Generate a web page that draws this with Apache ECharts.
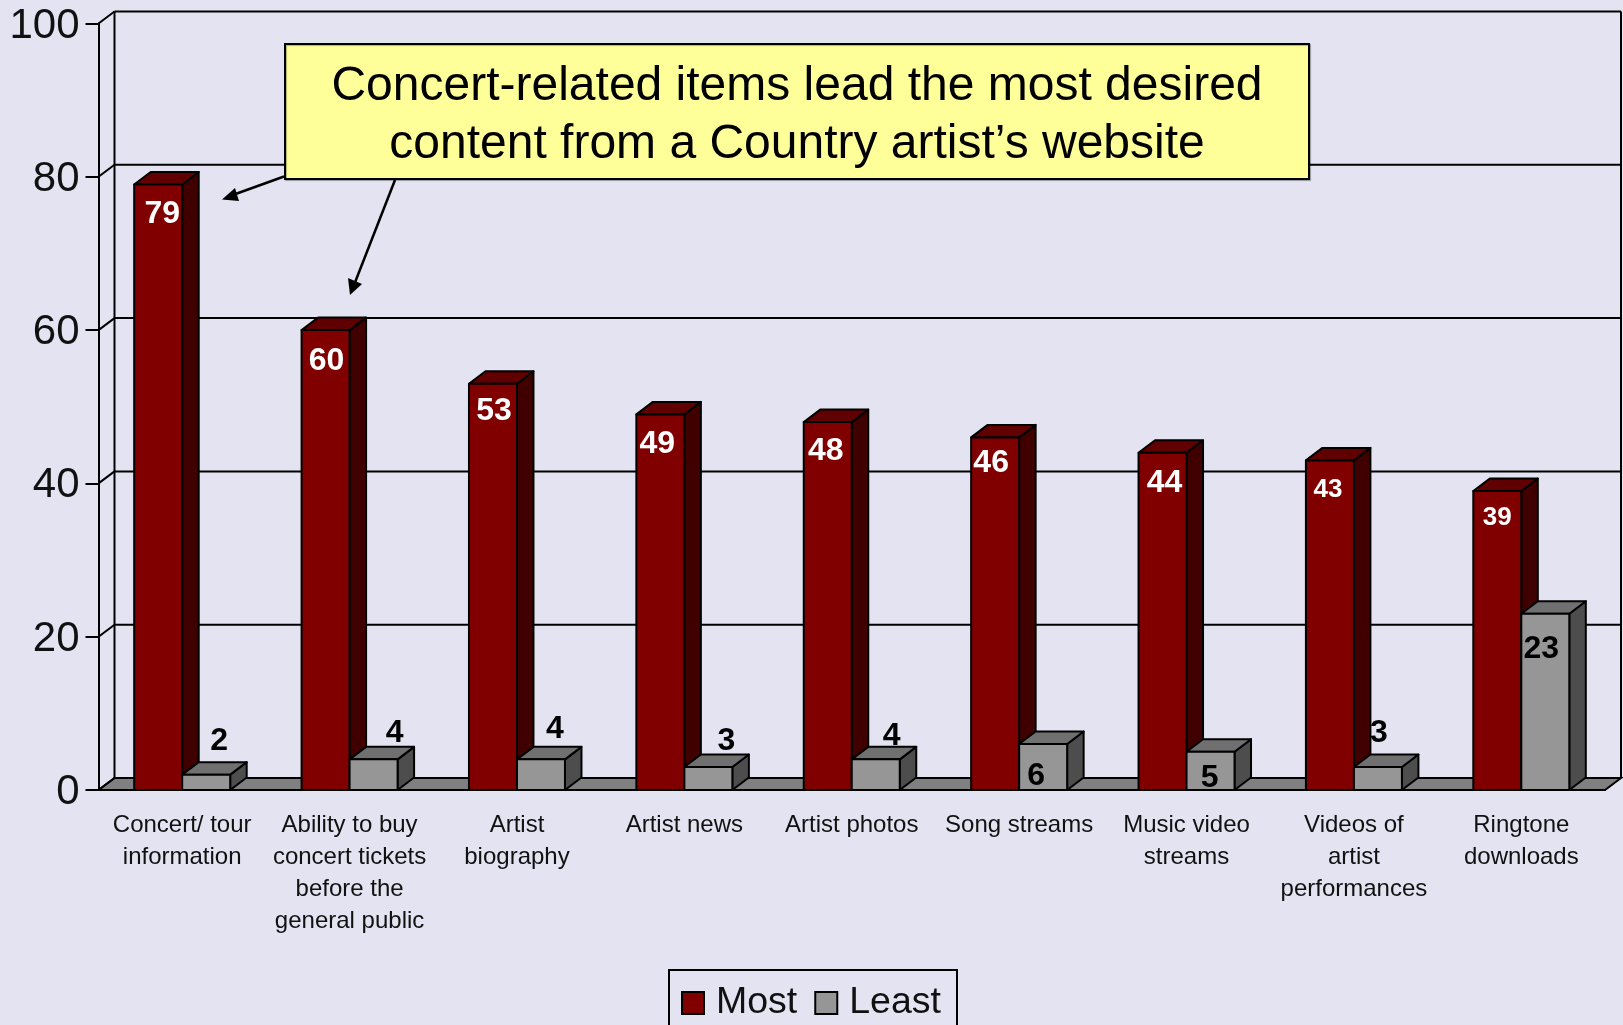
<!DOCTYPE html>
<html>
<head>
<meta charset="utf-8">
<style>html,body{margin:0;padding:0;background:#e3e3f1;overflow:hidden}#c{width:1623px;height:1025px}</style>
<script src="https://cdn.jsdelivr.net/npm/echarts@6/dist/echarts.min.js"></script>
</head>
<body>
<div id="c"></div>
<script>
const categories = ['Concert/ tour\ninformation','Ability to buy\nconcert tickets\nbefore the\ngeneral public','Artist\nbiography','Artist news','Artist photos','Song streams','Music video\nstreams','Videos of\nartist\nperformances','Ringtone\ndownloads'];
const most = [79,60,53,49,48,46,44,43,39];
const least = [2,4,4,3,4,6,5,3,23];
const yTicks = [0,20,40,60,80,100];
const calloutLines = ['Concert-related items lead the most desired','content from a Country artist\u2019s website'];

// Label placement (px offsets from the front-top centre of each bar) and sizes
const mostLabelSize = [32,32,32,32,32,32,32,26,26];
const mostLabelDx = [4,1,1,-3,-2,-4,2,-2,0];
const mostLabelDy = [30,31,27,30,29,26,30,29,27];
const leastLabelDx = [13,21,14,18,16,-7,-1,1,-4];
const leastLabelDy = [-33,-26,-30,-26,-23,32,26,-34,35];

const FONT = '"Liberation Sans", Arial, sans-serif';
const BG = '#e3e3f1', DX = 16.5, DY = 12.5, BAR = 48;

function bar3d(api, side, colors, labelCfg){
  const i = api.value(0), v = api.value(1);
  const c = api.coord([i, v]), b = api.coord([i, 0]);
  const x0 = side < 0 ? c[0] - BAR : c[0], x1 = x0 + BAR, t = c[1], o = b[1];
  const ln = {stroke:'#000', lineWidth:2, lineJoin:'round'};
  return {type:'group', children:[
    {type:'polygon', shape:{points:[[x1,t],[x1+DX,t-DY],[x1+DX,o-DY],[x1,o]]}, style:{fill:colors[2], ...ln}},
    {type:'polygon', shape:{points:[[x0,t],[x0+DX,t-DY],[x1+DX,t-DY],[x1,t]]}, style:{fill:colors[1], ...ln}},
    {type:'rect', shape:{x:x0,y:t,width:BAR,height:o-t}, style:{fill:colors[0], ...ln}},
    {type:'text', z2:20, style:{text:String(v), x:(x0+x1)/2+labelCfg.dx(i), y:t+labelCfg.dy(i), align:'center', verticalAlign:'middle',
      fill:labelCfg.color, font:'bold '+labelCfg.size(i)+'px '+FONT}}
  ]};
}

const option = {
  animation:false,
  backgroundColor:BG,
  grid:{left:98.5, top:23.5, width:1506.5, height:766.5, containLabel:false},
  legend:{
    left:669, top:970, data:['Most','Least'], icon:'rect', orient:'horizontal',
    borderColor:'#000', borderWidth:2, padding:[14,16,30,12], itemGap:17, itemWidth:22, itemHeight:22,
    itemStyle:{borderColor:'#000', borderWidth:2},
    textStyle:{fontFamily:FONT, fontSize:37.5, color:'#111', padding:[0,0,0,7]},
    selectedMode:false
  },
  xAxis:{
    type:'category', data:categories,
    axisLine:{lineStyle:{color:'#000', width:2}},
    axisTick:{length:13, lineStyle:{color:'#000', width:2}},
    axisLabel:{fontFamily:FONT, fontSize:24, color:'#111', lineHeight:32, margin:19, interval:0},
    splitLine:{show:false}
  },
  yAxis:{
    type:'value', min:0, max:100, interval:20,
    axisLine:{show:true, lineStyle:{color:'#000', width:2}},
    axisTick:{show:true, length:13, lineStyle:{color:'#000', width:2}},
    axisLabel:{margin:19, formatter:'{a|{value}}',
      rich:{a:{fontFamily:FONT, fontSize:42, color:'#111', padding:[5,0,0,0]}}},
    splitLine:{show:false}
  },
  series:[
    { type:'custom', name:'wall', silent:true, clip:false, z:1,
      data:yTicks.map(t=>[0,t]),
      renderItem(params, api){
        const cs = params.coordSys, t = api.value(1), y = api.coord([0,t])[1];
        const L = cs.x, R = cs.x+cs.width;
        const ln = {stroke:'#000', lineWidth:2};
        const kids = [];
        if(t===0){
          kids.push({type:'polygon', shape:{points:[[L,y],[L+DX-.5,y-12],[R+DX-.5,y-12],[R,y]]}, style:{fill:'#808080', stroke:'#000', lineWidth:2}});
        }
        if(t===100){
          const y0 = api.coord([0,0])[1];
          kids.push({type:'line', shape:{x1:L+DX-.5,y1:y-12,x2:L+DX-.5,y2:y0-12}, style:{stroke:'#000', lineWidth:2}});
          kids.push({type:'line', shape:{x1:R+DX-.5,y1:y-12,x2:R+DX-.5,y2:y0-12}, style:{stroke:'#000', lineWidth:2}});
        }
        kids.push({type:'line', shape:{x1:L+DX-.5,y1:y-12,x2:R+DX-.5,y2:y-12}, style:ln});
        kids.push({type:'line', shape:{x1:L,y1:y,x2:L+DX-.5,y2:y-12}, style:{stroke:'#000', lineWidth:2}});
        return {type:'group', children:kids};
      }
    },
    { type:'custom', name:'Most', clip:false, z:2,
      itemStyle:{color:'#800000', borderColor:'#000', borderWidth:2},
      data:most.map((v,i)=>[i,v]),
      renderItem(p, api){ return bar3d(api,-1,['#800000','#600000','#400000'],{color:'#fff',dx:i=>mostLabelDx[i],dy:i=>mostLabelDy[i],size:i=>mostLabelSize[i]}); }
    },
    { type:'custom', name:'Least', clip:false, z:3,
      itemStyle:{color:'#969696', borderColor:'#000', borderWidth:2},
      data:least.map((v,i)=>[i,v]),
      renderItem(p, api){ return bar3d(api,1,['#969696','#707070','#4d4d4d'],{color:'#000',dx:i=>leastLabelDx[i],dy:i=>leastLabelDy[i],size:()=>32}); }
    }
  ],
  graphic:{elements:[
    {type:'line', z:50, shape:{x1:284,y1:176.5,x2:230,y2:196}, style:{stroke:'#000', lineWidth:2.5}},
    {type:'polygon', z:50, shape:{points:[[222,199.5],[235,188],[239,201]]}, style:{fill:'#000'}},
    {type:'line', z:50, shape:{x1:395,y1:180,x2:354,y2:285}, style:{stroke:'#000', lineWidth:2.5}},
    {type:'polygon', z:50, shape:{points:[[350,295],[348,278],[362,284]]}, style:{fill:'#000'}},
    {type:'rect', z:50, shape:{x:285,y:44,width:1024,height:135},
      style:{fill:'#ffff99', stroke:'#000', lineWidth:2, shadowColor:'rgba(0,0,0,.3)', shadowOffsetX:1, shadowOffsetY:1, shadowBlur:1}},
    {type:'text', z:51, style:{text:calloutLines[0], x:797, y:87, align:'center', verticalAlign:'middle', fill:'#000', font:'48px '+FONT}},
    {type:'text', z:51, style:{text:calloutLines[1], x:797, y:145, align:'center', verticalAlign:'middle', fill:'#000', font:'48px '+FONT}}
  ]}
};
echarts.init(document.getElementById('c'), null, {renderer:'canvas'}).setOption(option);
</script>
</body>
</html>
